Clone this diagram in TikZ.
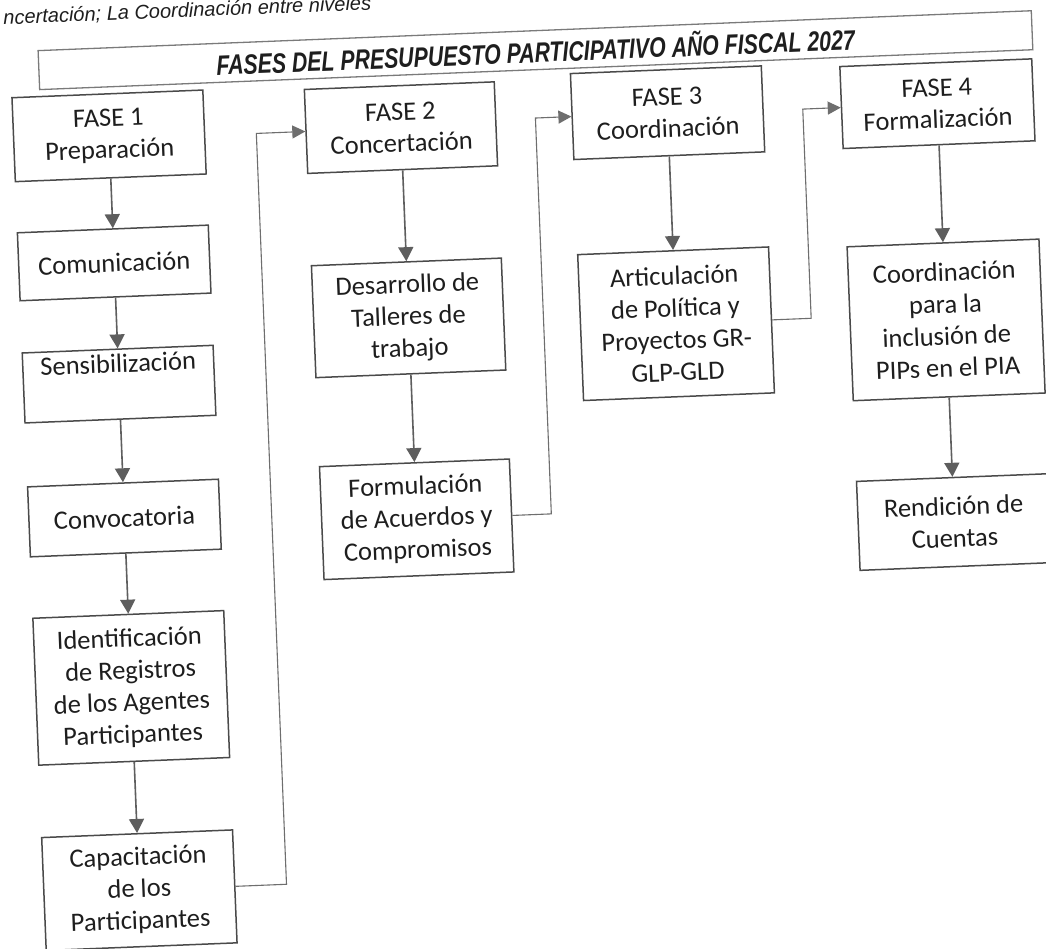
\documentclass[tikz,border=0pt]{standalone}
\usepackage{fontspec}
\setmainfont{Carlito}
\newfontfamily\arialf{Liberation Sans}
\usetikzlibrary{arrows.meta}
\definecolor{boxc}{HTML}{4A4A4A}
\definecolor{txtc}{HTML}{1E1E1E}
\definecolor{arrc}{HTML}{5E5E5E}
\definecolor{linkc}{HTML}{6E6E6E}
\definecolor{titlec}{HTML}{7A7A7A}
\begin{document}
\begin{tikzpicture}[x=1pt,y=-1pt,
  box/.style={draw=boxc, line width=1.5pt, fill=white, inner sep=0pt, align=center,
    font=\fontsize{26.5}{32}\selectfont, text=txtc},
  varr/.style={draw=arrc, line width=1.6pt, -{Triangle[width=15pt,length=14pt]}},
  link/.style={draw=linkc, line width=1.1pt, -{Triangle[width=13pt,length=13pt]}},
  titlebox/.style={draw=titlec, line width=1.3pt, inner sep=0pt, text=txtc},
]
\useasboundingbox (0,0) rectangle (1046,949);
\fill[white] (0,0) rectangle (1046,949);
\begin{scope}
\clip (0,0) rectangle (1046,949);
\begin{scope}[rotate around={2.3:(523,475)}, transform shape]
% text at the top
\node[anchor=base west, inner sep=0pt, text=txtc, font=\arialf\itshape\fontsize{20}{20}\selectfont] (topline) at (22,4)
  {ncertación; La Coordinación entre niveles};
% title
\node[titlebox, minimum width=994pt, minimum height=39pt] (title) at (552.5,51)
  {\raisebox{-3pt}{\arialf\bfseries\itshape\fontsize{28}{28}\selectfont\scalebox{0.76}[1]{FASES DEL PRESUPUESTO PARTICIPATIVO AÑO FISCAL 2027}}};
% column 1
\node[box, minimum width=191pt, minimum height=84pt] (f1) at (123,119.5) {FASE 1\\Preparación};
\node[box, minimum width=191pt, minimum height=68pt] (com) at (123,246.7) {Comunicación};
\node[box, minimum width=191pt, minimum height=70pt] (sen) at (123,368) {Sensibilización\\\strut};
\node[box, minimum width=191pt, minimum height=70pt] (conv) at (123,502) {Convocatoria};
\node[box, minimum width=191pt, minimum height=147pt] (iden) at (123,672) {Identificación\\de Registros\\de los Agentes\\Participantes};
\node[box, minimum width=191pt, minimum height=113pt] (cap) at (123,874.5) {Capacitación\\de los\\Participantes};
% column 2
\node[box, minimum width=190pt, minimum height=84pt] (f2) at (415,123) {FASE 2\\Concertación};
\node[box, minimum width=190pt, minimum height=112pt] (des) at (415,313.4) {Desarrollo de\\Talleres de\\trabajo};
\node[box, minimum width=190pt, minimum height=113pt] (form) at (415,515) {Formulación\\de Acuerdos y\\Compromisos};
% column 3
\node[box, minimum width=191pt, minimum height=86pt] (f3) at (682,118.8) {FASE 3\\Coordinación};
\node[box, minimum width=191pt, minimum height=146pt] (art) at (682,330) {Articulación\\de Política y\\Proyectos GR-\\GLP-GLD};
% column 4
\node[box, minimum width=192pt, minimum height=82pt] (f4) at (952,120.6) {FASE 4\\Formalización};
\node[box, minimum width=192pt, minimum height=154pt] (coo) at (952,337) {Coordinación\\para la\\inclusión de\\PIPs en el PIA};
\node[box, minimum width=192pt, minimum height=89pt] (ren) at (952,539.3) {Rendición de\\Cuentas};
% vertical arrows
\draw[varr] (f1.south) -- (com.north);
\draw[varr] (com.south) -- (sen.north);
\draw[varr] (sen.south) -- (conv.north);
\draw[varr] (conv.south) -- (iden.north);
\draw[varr] (iden.south) -- (cap.north);
\draw[varr] (f2.south) -- (des.north);
\draw[varr] (des.south) -- (form.north);
\draw[varr] (f3.south) -- (art.north);
\draw[varr] (f4.south) -- (coo.north);
\draw[varr] (coo.south) -- (ren.north);
% phase links
\draw[link] (cap.east) -- ++(51,0) |- (f2.west);
\draw[link] (form.east) -- ++(39,0) |- (f3.west);
\draw[link] (art.east) -- ++(39,0) |- (f4.west);
\end{scope}
\end{scope}
\end{tikzpicture}
\end{document}
